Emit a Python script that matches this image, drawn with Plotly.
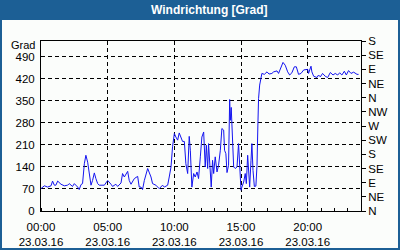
import pandas as pd
import plotly.graph_objects as go

# minutes after 2016-03-23 00:00
minutes = [0, 15, 30, 45, 52, 60, 67, 75, 90, 105, 120, 127, 142, 150, 165, 172, 180, 187, 195, 202,
           210, 217, 225, 232, 240, 247, 255, 262, 270, 285, 292, 300, 315, 322, 337, 345, 360, 367, 375, 390,
           397, 405, 420, 435, 442, 450, 457, 465, 480, 495, 502, 517, 532, 547, 555, 570, 577, 585, 592, 600,
           607, 615, 622, 630, 637, 645, 652, 660, 667, 672, 679, 687, 694, 702, 709, 717, 724, 732, 739, 744,
           750, 754, 762, 766, 772, 777, 784, 792, 799, 807, 814, 822, 826, 832, 837, 844, 849, 852, 856, 862,
           867, 874, 882, 889, 892, 897, 900, 904, 912, 919, 924, 930, 934, 939, 945, 949, 954, 960, 967, 972,
           976, 979, 984, 990, 994, 1005, 1017, 1026, 1039, 1047, 1062, 1069, 1077, 1089, 1099, 1110, 1119, 1129, 1140, 1149,
           1159, 1170, 1182, 1200, 1204, 1215, 1219, 1227, 1242, 1249, 1257, 1267, 1279, 1290, 1302, 1314, 1324, 1335, 1344, 1354,
           1365, 1374, 1384, 1395, 1407, 1422, 1429]
values = [71, 80, 76, 80, 95, 82, 82, 95, 85, 80, 82, 87, 78, 87, 76, 68, 84, 87, 150, 177,
          155, 119, 82, 97, 121, 103, 87, 82, 82, 82, 89, 97, 85, 78, 85, 78, 89, 119, 108, 126,
          97, 85, 103, 110, 76, 76, 68, 97, 135, 108, 87, 82, 71, 82, 76, 82, 108, 140, 204, 246,
          235, 225, 248, 230, 221, 221, 150, 119, 237, 193, 76, 119, 108, 124, 103, 172, 235, 251, 140, 209,
          135, 214, 129, 76, 161, 119, 172, 124, 145, 193, 262, 257, 193, 182, 122, 145, 354, 288, 329, 214,
          140, 135, 140, 214, 172, 129, 66, 76, 92, 119, 87, 177, 108, 76, 161, 214, 129, 78, 79, 145,
          273, 357, 400, 432, 437, 434, 442, 435, 437, 442, 445, 437, 450, 472, 463, 442, 432, 439, 458, 458,
          434, 437, 448, 450, 437, 460, 442, 428, 424, 432, 426, 437, 428, 424, 440, 432, 437, 432, 439, 432,
          444, 432, 446, 437, 441, 434, 434]

left_ticks = [0, 70, 140, 210, 280, 350, 420, 490]
right_ticks = [0, 45, 90, 135, 180, 225, 270, 315, 360, 405, 450, 495, 540]
right_labels = ["N", "NE", "E", "SE", "S", "SW", "W", "NW", "N", "NE", "E", "SE", "S"]
x_ticks_hours = [0, 5, 10, 15, 20]

base = pd.Timestamp("2016-03-23")
times = [base + pd.Timedelta(minutes=m) for m in minutes]
x_tickvals = [base + pd.Timedelta(hours=h) for h in x_ticks_hours]
x_ticktext = [f"{h:02d}:00<br>23.03.16" for h in x_ticks_hours]

FONT = "Liberation Sans"
BLUE = "#1c5f95"
L, R, T, B = 41, 39, 41, 39
W, H = 400, 250
PW, PH = W - L - R, H - T - B

def px(x):
    return (x - L) / PW

def py(y):
    return (H - B - y) / PH

fig = go.Figure()
fig.add_trace(go.Scatter(x=times, y=values, mode="lines",
                         line=dict(color="#1414f0", width=1), showlegend=False))
fig.add_trace(go.Scatter(x=[times[0]], y=[0], yaxis="y2", mode="markers",
                         marker=dict(opacity=0), showlegend=False, hoverinfo="skip"))

fig.update_layout(
    width=W, height=H,
    margin=dict(l=L, r=R, t=T, b=B),
    paper_bgcolor="#fbfdfb", plot_bgcolor="#fbfdfb",
    font=dict(family=FONT, size=11.5, color="black"),
    xaxis=dict(
        type="date", automargin=False,
        range=[base, base + pd.Timedelta(hours=24)],
        tickvals=x_tickvals, ticktext=x_ticktext,
        ticks="", showline=True, linecolor="black", linewidth=1, mirror=True,
        showgrid=True, gridcolor="black", gridwidth=1, griddash="4px,3px",
        zeroline=False, ticklabelstandoff=5,
        minor=dict(dtick=3600000, ticks="inside", ticklen=3, tickcolor="black", showgrid=False),
        tickfont=dict(family=FONT, size=11.5, color="black"),
    ),
    yaxis=dict(
        range=[0, 540], tickvals=left_ticks, automargin=False,
        showline=True, linecolor="black", linewidth=1,
        showgrid=True, gridcolor="black", gridwidth=1, griddash="4px,3px",
        zeroline=False, ticks="", ticklabelstandoff=3,
        tickfont=dict(family=FONT, size=11.5, color="black"),
    ),
    yaxis2=dict(
        range=[0, 540], tickvals=right_ticks, ticktext=right_labels,
        overlaying="y", side="right", automargin=False,
        showline=True, linecolor="black", linewidth=1,
        showgrid=False, zeroline=False,
        ticks="outside", ticklen=4, tickcolor="black",
        tickfont=dict(family=FONT, size=11.5, color="black"),
    ),
    shapes=[
        dict(type="rect", xref="paper", yref="paper",
             x0=px(0), x1=px(W), y0=py(20), y1=py(0),
             fillcolor=BLUE, line=dict(width=0), layer="above"),
        dict(type="rect", xref="paper", yref="paper",
             x0=px(1), x1=px(W - 1), y0=py(H - 1), y1=py(1),
             fillcolor="rgba(0,0,0,0)", line=dict(color=BLUE, width=2), layer="above"),
    ],
    annotations=[
        dict(text="<b>Windrichtung [Grad]</b>", xref="paper", yref="paper",
             x=px(209.5), y=py(10), xanchor="center", yanchor="middle", showarrow=False,
             font=dict(family=FONT, size=12, color="white")),
        dict(text="Grad", xref="paper", yref="paper",
             x=px(37), y=py(44.5), xanchor="right", yanchor="middle", showarrow=False,
             font=dict(family=FONT, size=11, color="black")),
    ],
)

fig.write_html("out.html")
